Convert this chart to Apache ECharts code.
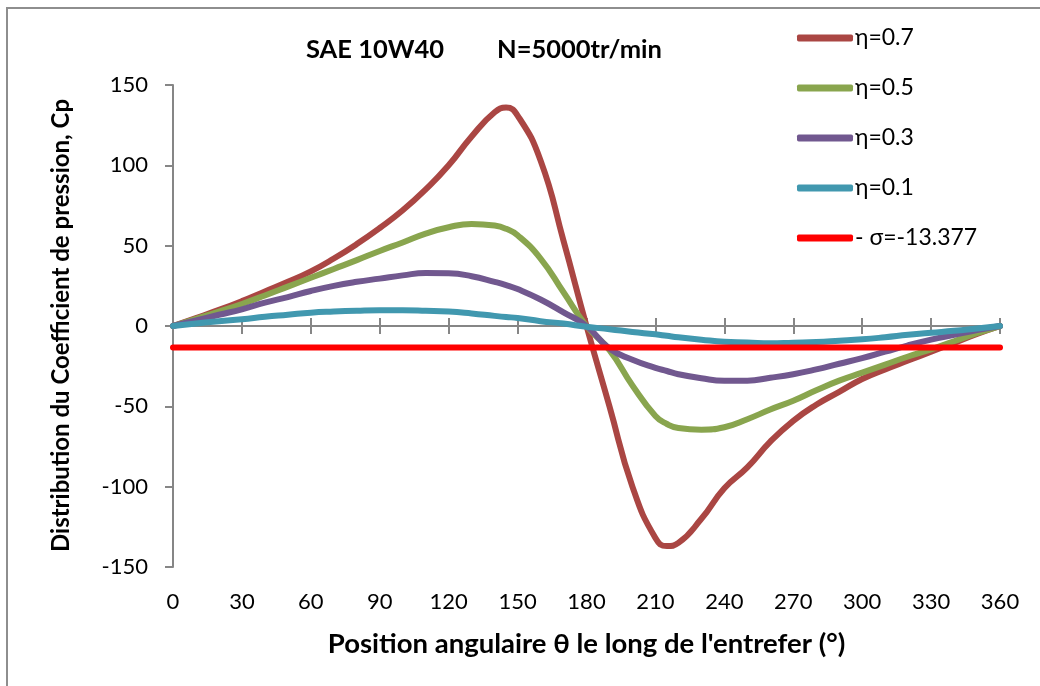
<!DOCTYPE html>
<html>
<head>
<meta charset="utf-8">
<script src="https://cdn.jsdelivr.net/npm/echarts@6/dist/echarts.min.js"></script>
<style>
  html, body { margin: 0; padding: 0; background: #fff; }
  #chart { width: 1040px; height: 686px; }
</style>
</head>
<body>
<div id="chart"></div>
<script>
// angles (°)
var angles = [0, 10, 20, 30, 40, 50, 60, 70, 80, 90, 100, 110, 120, 130, 140, 145, 150, 160, 170, 180,
  190, 200, 210, 215, 220, 230, 240, 250, 260, 270, 280, 290, 300, 310, 320, 330, 340, 350, 360];
var xTicks = [0, 30, 60, 90, 120, 150, 180, 210, 240, 270, 300, 330, 360];
var yTicks = [-150, -100, -50, 0, 50, 100, 150];

// Cp for each eta
var eta07 = [0, 5, 10, 15.5, 21.5, 27.5, 34, 42, 51, 61, 72, 85, 100, 118, 133, 136, 131, 103, 53, 0,
  -50, -100, -132, -137, -135, -120, -101, -88, -72, -59, -49, -41, -33, -27, -21.5, -16, -10.5, -5, 0];
var eta05 = [0, 4.5, 9, 13.7, 19, 24.5, 30, 35.5, 41, 46.7, 52, 57.5, 61.5, 63.5, 62.5, 60.5, 56.5, 42, 21, 0,
  -15, -37, -56, -61, -63.5, -64.5, -63, -58, -52, -46.5, -40, -34, -29, -24, -19, -14.5, -9.5, -4.5, 0];
var eta03 = [0, 3.5, 7, 10.4, 14.5, 18, 21.8, 25, 27.5, 29.5, 31.5, 33, 32.8, 31, 27.5, 25.5, 23, 16.5, 8.5, 0,
  -14, -21, -26, -28, -30, -32.5, -34, -34, -32.2, -30, -27, -23.5, -20, -16, -12, -8.5, -5.5, -2.5, 0];
var eta01 = [0, 1.6, 3, 4.2, 5.7, 7, 8.3, 9, 9.5, 9.8, 9.8, 9.5, 9, 7.8, 6.3, 5.6, 5, 3, 1.5, -0.5,
  -2, -3.7, -5.2, -6.1, -7, -8.5, -9.8, -10.2, -10.8, -10.4, -10, -9.2, -8.3, -7, -5.5, -4.2, -3, -1.5, 0];
var sigmaX = [0, 360];
var sigma = -13.377;

var names = ['η=0.7', 'η=0.5', 'η=0.3', 'η=0.1', '- σ=-13.377'];
var colors = ['#AA4643', '#89A54E', '#71588F', '#4198AF', '#FF0000'];

function pairs(xs, ys) {
  return xs.map(function (x, i) { return [x, ys[i]]; });
}

var font = 'Lato, "Open Sans", sans-serif';
var axisGray = '#868686';

var myChart = echarts.init(document.getElementById('chart'));

var curves = [eta07, eta05, eta03, eta01].map(function (vals, i) {
  return {
    name: names[i],
    type: 'line',
    xAxisIndex: 0,
    yAxisIndex: 0,
    smooth: true,
    symbol: 'none',
    data: pairs(angles, vals),
    lineStyle: { color: colors[i], width: 6, cap: 'round', join: 'round' },
    itemStyle: { color: colors[i] }
  };
});
curves.push({
  name: names[4],
  type: 'line',
  xAxisIndex: 0,
  yAxisIndex: 0,
  symbol: 'none',
  data: sigmaX.map(function (x) { return [x, sigma]; }),
  lineStyle: { color: colors[4], width: 6, cap: 'round' },
  itemStyle: { color: colors[4] }
});

var option = {
  animation: false,
  backgroundColor: '#fff',
  textStyle: { fontFamily: font },
  title: [
    { text: 'SAE 10W40', left: 301, top: 32, textStyle: { fontFamily: font, fontSize: 25.5, fontWeight: 'bold', color: '#000' } },
    { text: 'N=5000tr/min', left: 492, top: 32, textStyle: { fontFamily: font, fontSize: 25.5, fontWeight: 'bold', color: '#000' } }
  ],
  legend: {
    orient: 'vertical',
    left: 792,
    top: 21,
    itemWidth: 56,
    itemHeight: 7,
    itemGap: 26,
    icon: 'roundRect',
    data: names,
    textStyle: { fontFamily: font, fontSize: 23, color: '#000', lineHeight: 24, padding: [0, 0, 0, -3] }
  },
  grid: [
    { left: 173, right: 40, top: 85, bottom: 119 },
    { left: 173, right: 40, top: 85, bottom: 119 }
  ],
  xAxis: [
    {
      type: 'value', gridIndex: 0, position: 'bottom',
      min: xTicks[0], max: xTicks[xTicks.length - 1], interval: 30,
      axisLine: { onZero: true, onZeroAxisIndex: 0, lineStyle: { color: axisGray, width: 2 } },
      axisTick: { show: true, length: 8, lineStyle: { color: axisGray, width: 2 } },
      axisLabel: { show: false },
      splitLine: { show: false }
    },
    {
      type: 'value', gridIndex: 0, position: 'top',
      min: xTicks[0], max: xTicks[xTicks.length - 1], interval: 30,
      axisLine: { onZero: true, onZeroAxisIndex: 0, lineStyle: { color: axisGray, width: 2 } },
      axisTick: { show: true, length: 8, lineStyle: { color: axisGray, width: 2 } },
      axisLabel: { show: false },
      splitLine: { show: false }
    },
    {
      type: 'value', gridIndex: 1, position: 'bottom',
      min: xTicks[0], max: xTicks[xTicks.length - 1], interval: 30,
      axisLine: { show: false, onZero: false },
      axisTick: { show: false },
      axisLabel: { margin: 24, fontFamily: font, fontSize: 22, color: '#000' },
      splitLine: { show: false },
      name: "Position angulaire θ le long de l'entrefer (°)",
      nameLocation: 'middle',
      nameGap: 63,
      nameTextStyle: { fontFamily: font, fontSize: 27.5, fontWeight: 'bold', color: '#000' }
    }
  ],
  yAxis: [
    {
      type: 'value', gridIndex: 0,
      min: yTicks[0], max: yTicks[yTicks.length - 1], interval: 50,
      axisLine: { show: true, onZero: false, lineStyle: { color: axisGray, width: 2 } },
      axisTick: { show: true, length: 8, lineStyle: { color: axisGray, width: 2 } },
      axisLabel: { margin: 25, fontFamily: font, fontSize: 22, color: '#000' },
      splitLine: { show: false },
      name: 'Distribution du Coefficient de pression, Cp',
      nameLocation: 'middle',
      nameGap: 100,
      nameTextStyle: { fontFamily: font, fontSize: 24, fontWeight: 'bold', color: '#000', padding: [0, 0, 0, 1] }
    },
    {
      type: 'value', gridIndex: 1, show: false,
      min: yTicks[0], max: yTicks[yTicks.length - 1]
    }
  ],
  graphic: [{
    type: 'rect',
    silent: true,
    shape: { x: 7, y: 8, width: 1100, height: 800 },
    style: { fill: 'none', stroke: '#8e8e8e', lineWidth: 2 }
  }],
  series: curves
};

myChart.setOption(option);
</script>
</body>
</html>
